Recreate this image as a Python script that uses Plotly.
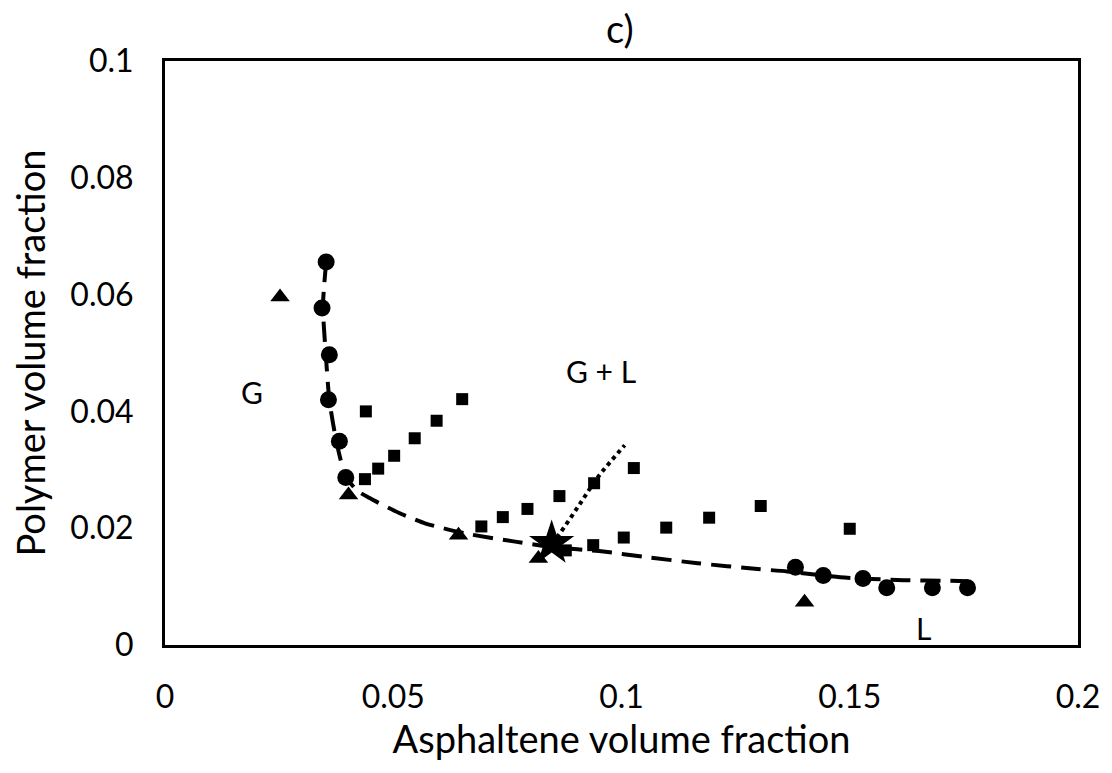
import plotly.graph_objects as go

# Binodal data (circles)
circ_x = [0.0353, 0.0344, 0.0360, 0.0358, 0.0382, 0.0396, 0.1381, 0.1442, 0.1529, 0.1581, 0.1681, 0.1758]
circ_y = [0.0656, 0.0577, 0.0497, 0.0420, 0.0349, 0.0287, 0.0133, 0.0119, 0.0114, 0.0098, 0.0098, 0.0098]

# Triangles
tri_x = [0.0252, 0.0402, 0.0643, 0.0818, 0.1401]
tri_y = [0.0596, 0.0257, 0.0188, 0.0148, 0.0073]

# Squares (tie-line points)
sq_x = [0.0440, 0.0438, 0.0467, 0.0502, 0.0547, 0.0595, 0.0651,
        0.0693, 0.0740, 0.0794, 0.0864, 0.0940, 0.1027,
        0.0878, 0.0938, 0.1005, 0.1098, 0.1192, 0.1305, 0.1500]
sq_y = [0.0400, 0.0284, 0.0302, 0.0324, 0.0354, 0.0384, 0.0421,
        0.0203, 0.0219, 0.0233, 0.0255, 0.0277, 0.0303,
        0.0162, 0.0171, 0.0184, 0.0201, 0.0218, 0.0238, 0.0199]

# Critical point (star)
star_x = [0.0847]
star_y = [0.0174]

# Fitted binodal curve (dashed)
curve_x = [0.0353, 0.0346, 0.0352, 0.0360, 0.0375, 0.0395, 0.0420, 0.0447, 0.0513, 0.0571,
           0.0658, 0.0767, 0.0846, 0.0960, 0.1050, 0.1167, 0.1298, 0.1363, 0.1479, 0.1618, 0.1719, 0.1760]
curve_y = [0.0656, 0.0580, 0.0500, 0.0420, 0.0350, 0.0290, 0.0265, 0.0252, 0.0226, 0.0208,
           0.0191, 0.0177, 0.0168, 0.0160, 0.0151, 0.0140, 0.0130, 0.0126, 0.0116, 0.0111, 0.0110, 0.0109]

# Dotted line from critical point
dot_x = [0.0847, 0.0862, 0.0905, 0.0949, 0.1007]
dot_y = [0.0174, 0.0188, 0.0237, 0.0288, 0.0342]

FONT = "Lato"

fig = go.Figure()
fig.add_trace(go.Scatter(x=curve_x, y=curve_y, mode="lines",
                         line=dict(color="black", width=4, dash="20px,10px", shape="spline", smoothing=0.6),
                         showlegend=False, hoverinfo="skip"))
fig.add_trace(go.Scatter(x=dot_x, y=dot_y, mode="lines",
                         line=dict(color="black", width=4, dash="4px,4px", shape="spline"),
                         showlegend=False, hoverinfo="skip"))
fig.add_trace(go.Scatter(x=sq_x, y=sq_y, mode="markers",
                         marker=dict(symbol="square", size=12, color="black"), showlegend=False))
fig.add_trace(go.Scatter(x=tri_x, y=tri_y, mode="markers",
                         marker=dict(symbol="triangle-up", size=17, color="black"), showlegend=False))
fig.add_trace(go.Scatter(x=circ_x, y=circ_y, mode="markers",
                         marker=dict(symbol="circle", size=17, color="black"), showlegend=False))
fig.add_trace(go.Scatter(x=star_x, y=star_y, mode="markers",
                         marker=dict(symbol="star", size=34, color="black"), showlegend=False))

for txt, x, y in [("G", 0.019, 0.0433), ("G + L", 0.0955, 0.0470), ("L", 0.1662, 0.0029)]:
    fig.add_annotation(x=x, y=y, text=txt, showarrow=False,
                       font=dict(family=FONT, size=30, color="black"))

fig.update_layout(
    width=1112, height=773,
    margin=dict(l=165, r=30, t=61, b=128),
    paper_bgcolor="white", plot_bgcolor="white",
    title=dict(text="c)", x=0.5575, xanchor="center", y=0.962, yanchor="middle",
               font=dict(family=FONT, size=38, color="black")),
    font=dict(family=FONT, color="black"),
)
fig.update_xaxes(range=[0, 0.2], tickvals=[0, 0.05, 0.1, 0.15, 0.2],
                 ticktext=["0", "0.05", "0.1", "0.15", "0.2"],
                 showgrid=False, zeroline=False, showline=True, mirror=True,
                 linecolor="black", linewidth=3, ticks="", ticklabelstandoff=22,
                 tickfont=dict(family=FONT, size=32, color="black"),
                 title=dict(text="Asphaltene volume fraction", standoff=0,
                            font=dict(family=FONT, size=38, color="black")))
fig.update_yaxes(range=[0, 0.1], tickvals=[0, 0.02, 0.04, 0.06, 0.08, 0.1],
                 ticktext=["0", "0.02", "0.04", "0.06", "0.08", "0.1"],
                 showgrid=False, zeroline=False, showline=True, mirror=True,
                 linecolor="black", linewidth=3, ticks="", ticklabelstandoff=22,
                 tickfont=dict(family=FONT, size=32, color="black"),
                 title=dict(text="Polymer volume fraction", standoff=14,
                            font=dict(family=FONT, size=38, color="black")))

fig.write_html("out.html")
